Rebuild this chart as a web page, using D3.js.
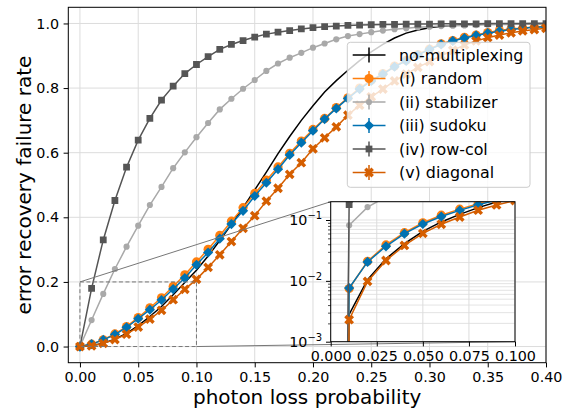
<!DOCTYPE html>
<html>
<head>
<meta charset="utf-8">
<script src="https://cdn.jsdelivr.net/npm/d3@7"></script>
<style>
  body { margin: 0; background: #fff; }
  svg { font-family: "DejaVu Sans", sans-serif; }
</style>
</head>
<body>
<svg id="chart" width="566" height="410"></svg>
<script>
// photon loss probability (x) for every point
const lossProb = [0.00, 0.01, 0.02, 0.03, 0.04, 0.05, 0.06, 0.07, 0.08, 0.09,
  0.10, 0.11, 0.12, 0.13, 0.14, 0.15, 0.16, 0.17, 0.18, 0.19,
  0.20, 0.21, 0.22, 0.23, 0.24, 0.25, 0.26, 0.27, 0.28, 0.29,
  0.30, 0.31, 0.32, 0.33, 0.34, 0.35, 0.36, 0.37, 0.38, 0.39, 0.40];

const noMultiplexing = [0, 0.0028, 0.0105, 0.023, 0.041, 0.065, 0.093, 0.124, 0.16, 0.198,
  0.236, 0.28, 0.328, 0.378, 0.43, 0.485, 0.54, 0.597, 0.65, 0.70,
  0.745, 0.788, 0.823, 0.855, 0.885, 0.912, 0.935, 0.955, 0.97, 0.98,
  0.987, 0.991, 0.994, 0.996, 0.997, 0.998, 0.9985, 0.999, 0.9993, 0.9995, 0.9997];

const randomMux = [0, 0.0075, 0.021, 0.039, 0.062, 0.09, 0.12, 0.151, 0.186, 0.222,
  0.262, 0.301, 0.344, 0.388, 0.43, 0.474, 0.515, 0.556, 0.598, 0.636,
  0.672, 0.706, 0.74, 0.77, 0.8, 0.824, 0.845, 0.868, 0.886, 0.904,
  0.921, 0.937, 0.947, 0.957, 0.964, 0.972, 0.978, 0.983, 0.986, 0.989, 0.991];

const stabilizerMux = [0, 0.082, 0.163, 0.24, 0.309, 0.374, 0.438, 0.494, 0.552, 0.601,
  0.648, 0.692, 0.734, 0.767, 0.798, 0.825, 0.853, 0.876, 0.894, 0.909,
  0.925, 0.938, 0.951, 0.961, 0.967, 0.973, 0.978, 0.982, 0.985, 0.988,
  0.99, 0.992, 0.993, 0.994, 0.995, 0.996, 0.997, 0.997, 0.998, 0.998, 0.999];

const sudokuMux = [0, 0.0076, 0.0205, 0.037, 0.0596, 0.086, 0.114, 0.144, 0.178, 0.212,
  0.253, 0.291, 0.334, 0.379, 0.42, 0.466, 0.507, 0.549, 0.593, 0.631,
  0.668, 0.704, 0.737, 0.768, 0.797, 0.822, 0.843, 0.866, 0.884, 0.902,
  0.92, 0.935, 0.946, 0.955, 0.963, 0.97, 0.976, 0.981, 0.985, 0.988, 0.99];

const rowColMux = [0, 0.18, 0.33, 0.452, 0.555, 0.639, 0.706, 0.763, 0.806, 0.845,
  0.873, 0.897, 0.92, 0.935, 0.947, 0.958, 0.967, 0.973, 0.978, 0.983,
  0.987, 0.99, 0.992, 0.994, 0.995, 0.996, 0.997, 0.997, 0.998, 0.998,
  0.998, 0.999, 0.999, 0.999, 0.999, 0.9995, 0.9995, 0.9995, 0.9995, 0.9995, 0.9995];

const diagonalMux = [0, 0.0023, 0.0098, 0.0216, 0.0382, 0.0603, 0.085, 0.112, 0.145, 0.177,
  0.208, 0.245, 0.284, 0.325, 0.366, 0.405, 0.45, 0.49, 0.533, 0.569,
  0.612, 0.646, 0.68, 0.716, 0.747, 0.773, 0.797, 0.822, 0.843, 0.864,
  0.882, 0.9, 0.917, 0.933, 0.946, 0.956, 0.964, 0.971, 0.977, 0.981, 0.985];

const xTicks = [0, 0.05, 0.10, 0.15, 0.20, 0.25, 0.30, 0.35, 0.40];
const yTicks = [0, 0.2, 0.4, 0.6, 0.8, 1.0];
const insetXTicks = [0, 0.025, 0.05, 0.075, 0.1];
const insetYTicks = [1e-3, 1e-2, 1e-1];
const insetYExp = ['\u22123', '\u22122', '\u22121'];
const zoomX = [0, 0.1];
const zoomY = [0, 0.2];

const series = [
  { name: 'no-multiplexing', values: noMultiplexing, color: '#000000', marker: null },
  { name: '(i) random', values: randomMux, color: '#ff7f0e', marker: 'circle' },
  { name: '(ii) stabilizer', values: stabilizerMux, color: '#a9a9a9', marker: 'small' },
  { name: '(iii) sudoku', values: sudokuMux, color: '#0072b2', marker: 'diamond' },
  { name: '(iv) row-col', values: rowColMux, color: '#555555', marker: 'square' },
  { name: '(v) diagonal', values: diagonalMux, color: '#d55e00', marker: 'x' }
];

const markers = {
  circle: { d: d3.symbol(d3.symbolCircle, 66)(), rot: 0 },
  small: { d: d3.symbol(d3.symbolCircle, 30)(), rot: 0 },
  diamond: { d: d3.symbol(d3.symbolSquare, 52)(), rot: 45 },
  square: { d: d3.symbol(d3.symbolSquare, 46)(), rot: 0 },
  x: { d: d3.symbol(d3.symbolCross, 60)(), rot: 45 }
};

const svg = d3.select('#chart');
const fs = 14.3;

// main axes box
const M = { left: 68.3, right: 546, top: 7.3, bottom: 362.7 };
const x = d3.scaleLinear().domain([-0.01, 0.40]).range([M.left, M.right]);
const y = d3.scaleLinear().domain([-0.05, 1.05]).range([M.bottom, M.top]);

svg.append('defs').append('clipPath').attr('id', 'clipMain')
  .append('rect').attr('x', M.left).attr('y', M.top)
  .attr('width', M.right - M.left).attr('height', M.bottom - M.top);

const gridColor = '#dcdcdc';
const main = svg.append('g');

main.selectAll('.vgrid').data(xTicks).join('line')
  .attr('x1', d => x(d)).attr('x2', d => x(d))
  .attr('y1', M.top).attr('y2', M.bottom)
  .attr('stroke', gridColor).attr('stroke-width', 1);
main.selectAll('.hgrid').data(yTicks).join('line')
  .attr('y1', d => y(d)).attr('y2', d => y(d))
  .attr('x1', M.left).attr('x2', M.right)
  .attr('stroke', gridColor).attr('stroke-width', 1);

function drawSeries(g, xs, ys, clipId) {
  const plot = g.append('g').attr('clip-path', `url(#${clipId})`);
  series.forEach(s => {
    const pts = lossProb.map((p, i) => [xs(p), ys(s.values[i])]);
    plot.append('path')
      .attr('d', d3.line()(pts))
      .attr('fill', 'none')
      .attr('stroke', s.color)
      .attr('stroke-width', 1.5);
    if (s.marker) {
      const m = markers[s.marker];
      plot.selectAll(null).data(pts).join('path')
        .attr('d', m.d)
        .attr('transform', d => `translate(${d[0]},${d[1]}) rotate(${m.rot})`)
        .attr('fill', s.color);
    }
  });
}

drawSeries(main, x, y, 'clipMain');

// zoom region + connectors
const boxColor = '#777777';
main.append('rect')
  .attr('x', x(zoomX[0])).attr('y', y(zoomY[1]))
  .attr('width', x(zoomX[1]) - x(zoomX[0])).attr('height', y(zoomY[0]) - y(zoomY[1]))
  .attr('fill', 'none').attr('stroke', boxColor).attr('stroke-width', 1)
  .attr('stroke-dasharray', '4,2.5');

// inset axes box
const I = { left: 330.7, right: 515, top: 201.7, bottom: 341.7 };
const xi = d3.scaleLinear().domain([0, 0.1]).range([I.left, I.right]);
const yi = d3.scaleLog().domain([1e-3, 0.2]).range([I.bottom, I.top]);
// log axis can't show zero, push it far below like a clipped value
const logFloor = 1e-30;

main.append('line')
  .attr('x1', x(zoomX[0])).attr('y1', y(zoomY[1]))
  .attr('x2', I.left).attr('y2', I.top)
  .attr('stroke', boxColor).attr('stroke-width', 1);
main.append('line')
  .attr('x1', x(zoomX[1])).attr('y1', y(zoomY[0]))
  .attr('x2', I.right).attr('y2', I.bottom)
  .attr('stroke', boxColor).attr('stroke-width', 1);

main.append('rect')
  .attr('x', M.left).attr('y', M.top)
  .attr('width', M.right - M.left).attr('height', M.bottom - M.top)
  .attr('fill', 'none').attr('stroke', '#000').attr('stroke-width', 1);

// main axes ticks
const xAxis = main.append('g')
  .attr('transform', `translate(0,${M.bottom})`)
  .call(d3.axisBottom(x).tickValues(xTicks).tickFormat(d3.format('.2f'))
    .tickSize(4.7).tickPadding(4).tickSizeOuter(0));
const yAxis = main.append('g')
  .attr('transform', `translate(${M.left},0)`)
  .call(d3.axisLeft(y).tickValues(yTicks).tickFormat(d3.format('.1f'))
    .tickSize(4.7).tickPadding(4.5).tickSizeOuter(0));
[xAxis, yAxis].forEach(a => {
  a.select('.domain').remove();
  a.selectAll('text').attr('font-size', fs).attr('font-family', 'DejaVu Sans').attr('fill', '#000');
  a.selectAll('line').attr('stroke', '#000');
});

svg.append('text')
  .attr('x', (M.left + M.right) / 2).attr('y', 404)
  .attr('text-anchor', 'middle').attr('font-size', 20)
  .text('photon loss probability');
svg.append('text')
  .attr('transform', `translate(30.5,${(M.top + M.bottom) / 2}) rotate(-90)`)
  .attr('text-anchor', 'middle').attr('font-size', 20)
  .text('error recovery failure rate');

// legend
const leg = svg.append('g');
leg.append('rect')
  .attr('x', 347.3).attr('y', 42.3).attr('width', 182.7).attr('height', 145)
  .attr('rx', 3).attr('fill', '#fff').attr('fill-opacity', 0.8)
  .attr('stroke', '#cccccc').attr('stroke-width', 1);
series.forEach((s, i) => {
  const cy = 55 + i * 23.5;
  const row = leg.append('g');
  row.append('line').attr('x1', 352.7).attr('x2', 385.5).attr('y1', cy).attr('y2', cy)
    .attr('stroke', s.color).attr('stroke-width', 1.5);
  row.append('line').attr('x1', 369).attr('x2', 369).attr('y1', cy - 7.5).attr('y2', cy + 7.5)
    .attr('stroke', s.color).attr('stroke-width', 1.5);
  if (s.marker) {
    const m = markers[s.marker];
    row.append('path').attr('d', m.d)
      .attr('transform', `translate(369,${cy}) rotate(${m.rot})`)
      .attr('fill', s.color);
  }
  row.append('text').attr('x', 399).attr('y', cy).attr('dy', '0.36em')
    .attr('font-size', 15.9).text(s.name);
});

// inset
const inset = svg.append('g');
svg.select('defs').append('clipPath').attr('id', 'clipInset')
  .append('rect').attr('x', I.left).attr('y', I.top)
  .attr('width', I.right - I.left).attr('height', I.bottom - I.top);

inset.append('rect')
  .attr('x', I.left).attr('y', I.top)
  .attr('width', I.right - I.left).attr('height', I.bottom - I.top)
  .attr('fill', '#fff');

const minorY = yi.ticks().filter(t => !insetYTicks.some(v => Math.abs(v - t) < t * 1e-6));
inset.selectAll('.ivgrid').data(insetXTicks).join('line')
  .attr('x1', d => xi(d)).attr('x2', d => xi(d))
  .attr('y1', I.top).attr('y2', I.bottom)
  .attr('stroke', gridColor).attr('stroke-width', 1);
inset.selectAll('.ihgrid').data(yi.ticks()).join('line')
  .attr('y1', d => yi(d)).attr('y2', d => yi(d))
  .attr('x1', I.left).attr('x2', I.right)
  .attr('stroke', gridColor).attr('stroke-width', 0.8);

drawSeries(inset, xi, v => yi(v > 0 ? v : logFloor), 'clipInset');

inset.append('rect')
  .attr('x', I.left).attr('y', I.top)
  .attr('width', I.right - I.left).attr('height', I.bottom - I.top)
  .attr('fill', 'none').attr('stroke', '#000').attr('stroke-width', 1);

const ixAxis = inset.append('g')
  .attr('transform', `translate(0,${I.bottom})`)
  .call(d3.axisBottom(xi).tickValues(insetXTicks).tickFormat(d3.format('.3f'))
    .tickSize(4.7).tickPadding(4).tickSizeOuter(0));
const iyAxis = inset.append('g')
  .attr('transform', `translate(${I.left},0)`)
  .call(d3.axisLeft(yi).tickValues(insetYTicks).tickFormat(() => '')
    .tickSize(4.7).tickSizeOuter(0));
inset.append('g')
  .attr('transform', `translate(${I.left},0)`)
  .call(d3.axisLeft(yi).tickValues(minorY).tickFormat(() => '')
    .tickSize(2.7).tickSizeOuter(0))
  .call(g => g.select('.domain').remove())
  .selectAll('line').attr('stroke', '#000').attr('stroke-width', 0.7);
[ixAxis, iyAxis].forEach(a => {
  a.select('.domain').remove();
  a.selectAll('text').attr('font-size', fs).attr('font-family', 'DejaVu Sans').attr('fill', '#000');
  a.selectAll('line').attr('stroke', '#000');
});

insetYTicks.forEach((t, i) => {
  const lbl = inset.append('text')
    .attr('x', I.left - 8.5).attr('y', yi(t) + 5)
    .attr('text-anchor', 'end').attr('font-size', fs);
  lbl.append('tspan').text('10');
  lbl.append('tspan').attr('dy', -6).attr('font-size', 10).text(insetYExp[i]);
});
</script>
</body>
</html>
